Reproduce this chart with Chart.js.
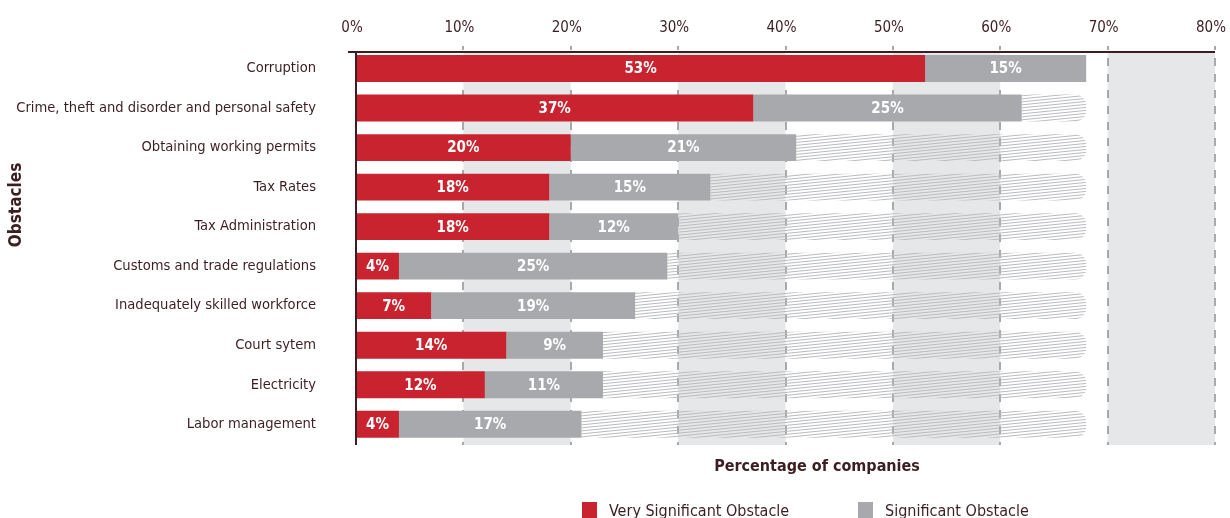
<!DOCTYPE html>
<html>
<head>
<meta charset="utf-8">
<script src="https://cdn.jsdelivr.net/npm/chart.js@4.4.1/dist/chart.umd.min.js"></script>
<style>
  html, body { margin: 0; padding: 0; background: #fff; }
</style>
</head>
<body>
<canvas id="obstacleChart" width="1230" height="518"></canvas>
<script>
// categories, top to bottom
const obstacles = [
    'Corruption',
    'Crime, theft and disorder and personal safety',
    'Obtaining working permits',
    'Tax Rates',
    'Tax Administration',
    'Customs and trade regulations',
    'Inadequately skilled workforce',
    'Court sytem',
    'Electricity',
    'Labor management'
];

// % of companies
const verySignificant = [53, 37, 20, 18, 18, 4, 7, 14, 12, 4];
const significant = [15, 25, 21, 15, 12, 25, 19, 9, 11, 17];
// hatched remainder up to the top bar length
const remainder = [0, 6, 27, 35, 38, 39, 42, 45, 45, 47];

const xTicks = [0, 10, 20, 30, 40, 50, 60, 70, 80];
const shadedBands = [[10, 20], [30, 40], [50, 60], [70, 80]];

const RED = '#c8232e';
const GREY = '#a7a9ac';
const BAND = '#e6e7e8';
const INK = '#3b1e22';
const FONT = "'DejaVu Sans Condensed', sans-serif";

Chart.defaults.font.family = FONT;
Chart.defaults.color = INK;

// thin slanted lines for the remainder bars
function makeHatch() {
    const tile = document.createElement('canvas');
    tile.width = 30;
    tile.height = 3;
    const c = tile.getContext('2d');
    c.strokeStyle = '#b9bbbe';
    c.lineWidth = 1;
    for (let k = -1; k <= 2; k++) {
        c.beginPath();
        c.moveTo(0, k * 3);
        c.lineTo(30, k * 3 - 3);
        c.stroke();
    }
    return c.createPattern(tile, 'repeat');
}

// shaded columns and dashed grid behind the bars
const backdrop = {
    id: 'backdrop',
    beforeDatasetsDraw(chart) {
        const { ctx, chartArea, scales: { x } } = chart;
        const top = 52;
        const bottom = chartArea.bottom + 1;
        ctx.save();
        ctx.fillStyle = BAND;
        shadedBands.forEach(([a, b]) => {
            const x0 = x.getPixelForValue(a);
            const x1 = x.getPixelForValue(b);
            ctx.fillRect(x0, top, x1 - x0, bottom - top);
        });
        ctx.strokeStyle = GREY;
        ctx.lineWidth = 2;
        ctx.setLineDash([8, 8]);
        ctx.lineDashOffset = 4;
        xTicks.slice(1).forEach(v => {
            const px = Math.round(x.getPixelForValue(v));
            ctx.beginPath();
            ctx.moveTo(px, 46);
            ctx.lineTo(px, bottom);
            ctx.stroke();
        });
        ctx.restore();
    }
};

// axis lines and value labels on top of the bars
const overlay = {
    id: 'overlay',
    afterDatasetsDraw(chart) {
        const { ctx, chartArea, scales: { x } } = chart;
        const x0 = x.getPixelForValue(0);
        ctx.save();
        ctx.strokeStyle = INK;
        ctx.lineWidth = 2;
        ctx.beginPath();
        ctx.moveTo(x0 - 8, 52);
        ctx.lineTo(x.getPixelForValue(80), 52);
        ctx.moveTo(x0, 51);
        ctx.lineTo(x0, chartArea.bottom + 1);
        ctx.stroke();

        ctx.fillStyle = '#fff';
        ctx.font = 'bold 15px ' + FONT;
        ctx.textAlign = 'center';
        ctx.textBaseline = 'middle';
        [0, 1].forEach(di => {
            const meta = chart.getDatasetMeta(di);
            const values = chart.data.datasets[di].data;
            meta.data.forEach((bar, i) => {
                ctx.fillText(values[i] + '%', (bar.x + bar.base) / 2, bar.y + 1);
            });
        });
        ctx.restore();
    }
};

// axis titles and legend
const captions = {
    id: 'captions',
    afterDraw(chart) {
        const { ctx } = chart;
        ctx.save();
        ctx.fillStyle = INK;
        ctx.font = 'bold 16px ' + FONT;
        ctx.textAlign = 'center';
        ctx.textBaseline = 'middle';
        ctx.fillText('Percentage of companies', 817, 467);

        ctx.font = 'bold 17px ' + FONT;
        ctx.translate(17, 205);
        ctx.rotate(-Math.PI / 2);
        ctx.fillText('Obstacles', 0, 0);
        ctx.setTransform(1, 0, 0, 1, 0, 0);

        const items = [[0, 582], [1, 858]];
        ctx.font = '16px ' + FONT;
        ctx.textAlign = 'left';
        ctx.textBaseline = 'alphabetic';
        items.forEach(([di, lx]) => {
            const ds = chart.data.datasets[di];
            ctx.fillStyle = ds.backgroundColor;
            ctx.fillRect(lx, 502, 15, 16);
            ctx.fillStyle = INK;
            ctx.fillText(ds.label, lx + 27, 516);
        });
        ctx.restore();
    }
};

new Chart(document.getElementById('obstacleChart'), {
    type: 'bar',
    data: {
        labels: obstacles,
        datasets: [
            { label: 'Very Significant Obstacle', data: verySignificant, backgroundColor: RED },
            { label: 'Significant Obstacle', data: significant, backgroundColor: GREY },
            { label: '', data: remainder, backgroundColor: makeHatch(),
              borderRadius: { topRight: 11, bottomRight: 11 }, borderSkipped: false }
        ]
    },
    options: {
        indexAxis: 'y',
        responsive: false,
        animation: false,
        datasets: { bar: { barPercentage: 0.68, categoryPercentage: 1 } },
        layout: { padding: { top: 0, right: 15, bottom: 74, left: 0 } },
        scales: {
            x: {
                position: 'top',
                stacked: true,
                min: 0,
                max: 80,
                afterFit(scale) {
                    scale.height = 47;
                    scale.paddingLeft = 0;
                    scale.paddingRight = 0;
                },
                afterBuildTicks(scale) { scale.ticks = xTicks.map(v => ({ value: v })); },
                ticks: {
                    callback: v => v + '%',
                    font: { size: 15 },
                    color: INK,
                    padding: 12,
                    labelOffset: -4,
                    maxRotation: 0
                },
                grid: { display: false, drawTicks: false },
                border: { display: false }
            },
            y: {
                stacked: true,
                afterFit(scale) { scale.width = 356; },
                ticks: { font: { size: 14.6 }, color: INK, padding: 40 },
                grid: { display: false, drawTicks: false },
                border: { display: false }
            }
        },
        plugins: {
            legend: { display: false },
            tooltip: { enabled: false }
        }
    },
    plugins: [backdrop, overlay, captions]
});
</script>
</body>
</html>
